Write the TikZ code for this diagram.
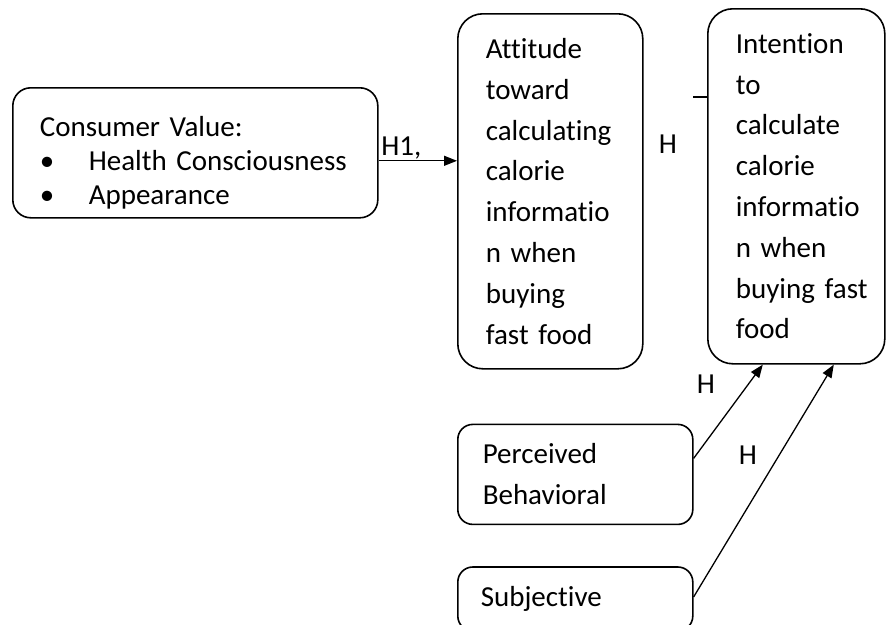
\documentclass[tikz,border=0pt]{standalone}
\usepackage{fontspec}
\setmainfont{Carlito}[Ligatures=NoCommon, WordSpace=0.85]
\usetikzlibrary{arrows.meta,positioning}
\tikzset{
  construct/.style={draw=black, line width=1.6pt, align=left, inner ysep=0pt,
                    font=\fontsize{29}{40.8}\selectfont},
  hyp/.style={-{Triangle[length=13pt,width=10pt]}, line width=1.3pt},
  hlabel/.style={font=\fontsize{29}{34}\selectfont, inner sep=0pt},
}

\begin{document}
\begin{tikzpicture}[x=1pt,y=-1pt]
  \useasboundingbox (0,0) rectangle (886,624);

  % constructs of the model
  \node[construct, anchor=north west, rounded corners=18pt, text width=311pt,
        inner xsep=27pt, minimum height=130pt,
        font=\fontsize{29}{34}\selectfont] (value) at (12,87)
       {\rule{0pt}{39.5pt}Consumer Value:\\
        \makebox[49pt][l]{\textbullet}Health Consciousness\\
        \makebox[49pt][l]{\textbullet}Appearance};
  \node[construct, anchor=north west, rounded corners=25pt, text width=129pt,
        inner xsep=28pt, minimum height=355pt] (attitude) at (457,13)
       {Attitude\\toward\\calculating\\calorie\\informatio\\n~when\\buying\\fast~food};
  \node[construct, anchor=north west, rounded corners=25pt, text width=121pt,
        inner xsep=28pt, minimum height=355pt] (intention) at (707,8)
       {Intention\\to\\calculate\\calorie\\informatio\\n~when\\buying~fast\\food};
  \node[construct, below=54pt of attitude.south west, anchor=north west,
        rounded corners=15pt, text width=185pt, inner xsep=25pt,
        minimum height=100pt] (perceived) {Perceived\\Behavioral};
  \node[construct, below=41pt of perceived, rounded corners=15pt,
        text width=189pt, inner xsep=23pt, minimum height=64pt] (subjective)
       {Subjective};

  % hypotheses
  \coordinate (h1) at ([yshift=-8pt]value.east);
  \draw[hyp] (h1) -- node[hlabel, above=1pt, pos=0.29] (h1lab) {H1,}
        (h1 -| attitude.west);
  \coordinate (stub) at (693,97);
  \draw[line width=1.3pt] (stub) -- (stub -| intention.west);
  \node[hlabel] (h2lab) at (668,144) {H};

  \draw[hyp] ([yshift=16pt]perceived.east) -- ([xshift=-33.5pt]intention.south);
  \draw[hyp] ([yshift=2pt]subjective.east) -- ([xshift=37.5pt]intention.south);
  \node[hlabel] (h3lab) at (706,384) {H};
  \node[hlabel] (h4lab) at (748,455) {H};
\end{tikzpicture}
\end{document}
